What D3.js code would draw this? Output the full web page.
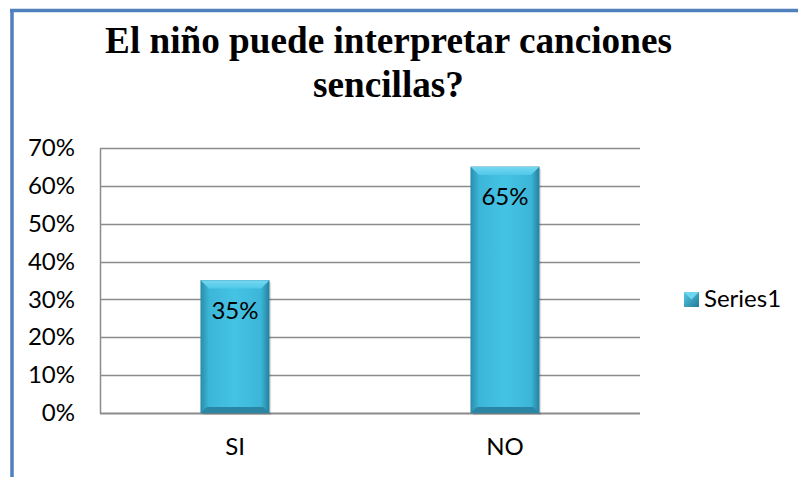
<!DOCTYPE html>
<html><head><meta charset="utf-8">
<script src="https://cdn.jsdelivr.net/npm/d3@7"></script>
<style>html,body{margin:0;padding:0;background:#fff;overflow:hidden}</style>
</head><body>
<svg id="c" width="798" height="477"></svg>
<script>
const categories = ["SI", "NO"];
const values = [0.35, 0.65];
const valueLabels = ["35%", "65%"];
const yTicks = [0, 0.1, 0.2, 0.3, 0.4, 0.5, 0.6, 0.7];
const titleLines = ["El niño puede interpretar canciones", "sencillas?"];
const seriesName = "Series1";

const svg = d3.select("#c");
const W = 798, H = 477;
const plot = {left: 100, right: 640, top: 148, bottom: 413};
const FS = "24px";
const LF = "Lato, 'Open Sans', sans-serif";

svg.append("line").attr("x1", 12).attr("x2", 12).attr("y1", 9.5).attr("y2", H)
  .attr("stroke", "#4F81BD").attr("stroke-width", 3.5);
svg.append("line").attr("x1", 10).attr("x2", W).attr("y1", 10.5).attr("y2", 10.5)
  .attr("stroke", "#4F81BD").attr("stroke-width", 3.5);

const title = svg.append("text").attr("text-anchor", "middle")
  .style("font-family", "'Liberation Serif', serif").style("font-weight", "bold")
  .style("font-size", "36px").attr("fill", "#000");
const tsp = titleLines.map((t, i) => title.append("tspan").attr("x", 388.5).attr("y", 53 + i * 44).text(t));
// fit first line width to the reference width
const w0 = tsp[0].node().getComputedTextLength();
if (w0 > 0) title.style("font-size", (36 * 567 / w0).toFixed(2) + "px");

const y = d3.scaleLinear().domain([0, 0.7]).range([plot.bottom, plot.top]);
const x = d3.scaleBand().domain(categories).range([plot.left, plot.right]).padding(0);

svg.append("g").selectAll("line").data(yTicks).join("line")
  .attr("x1", plot.left).attr("x2", plot.right)
  .attr("y1", d => Math.round(y(d)) + 0.5).attr("y2", d => Math.round(y(d)) + 0.5)
  .attr("stroke", "#8c8c8c").attr("stroke-width", d => d === 0 ? 2 : 1.5);

const yAxis = d3.axisLeft(y).tickValues(yTicks).tickFormat(d3.format(".0%")).tickSize(0).tickPadding(25);
const yg = svg.append("g").attr("transform", `translate(${plot.left},0)`).call(yAxis);
yg.select(".domain").attr("stroke", "#8c8c8c").attr("stroke-width", 1.5);
yg.selectAll("text").style("font-family", LF).style("font-size", FS).attr("fill", "#000");

const xAxis = d3.axisBottom(x).tickSize(0).tickPadding(25);
const xg = svg.append("g").attr("transform", `translate(0,${plot.bottom})`).call(xAxis);
xg.select(".domain").remove();
xg.selectAll("text").style("font-family", LF).style("font-size", FS).attr("fill", "#000");

const defs = svg.append("defs");
const g1 = defs.append("linearGradient").attr("id", "barH").attr("x1", 0).attr("x2", 1).attr("y1", 0).attr("y2", 0);
[[0, "#2b8eac"], [0.12, "#3cb6d8"], [0.5, "#45c3e4"], [0.88, "#3cb6d8"], [1, "#26829e"]]
  .forEach(([o, c]) => g1.append("stop").attr("offset", o).attr("stop-color", c));
const g2 = defs.append("linearGradient").attr("id", "barTop").attr("x1", 0).attr("x2", 0).attr("y1", 0).attr("y2", 1);
[[0, "#74d8f2"], [1, "#50c8e8"]].forEach(([o, c]) => g2.append("stop").attr("offset", o).attr("stop-color", c));
const g3 = defs.append("linearGradient").attr("id", "leg").attr("x1", 0).attr("x2", 1).attr("y1", 0).attr("y2", 1);
[[0, "#55cbea"], [1, "#237c96"]].forEach(([o, c]) => g3.append("stop").attr("offset", o).attr("stop-color", c));

const bw = x.bandwidth() * 0.253;
const bars = svg.append("g").selectAll("g").data(categories.map((c, i) => ({c, v: values[i], l: valueLabels[i]}))).join("g");
bars.append("rect")
  .attr("x", d => x(d.c) + x.bandwidth() / 2 - bw / 2 + 2).attr("y", d => y(d.v) + 2)
  .attr("width", bw).attr("height", d => plot.bottom - y(d.v))
  .attr("fill", "#000").attr("opacity", 0.12);
bars.append("rect")
  .attr("x", d => x(d.c) + x.bandwidth() / 2 - bw / 2).attr("y", d => y(d.v))
  .attr("width", bw).attr("height", d => plot.bottom - y(d.v))
  .attr("fill", "url(#barH)").attr("stroke", "#2a8aa8").attr("stroke-width", 0.6);
bars.append("path").attr("d", d => {
  const x0 = x(d.c) + x.bandwidth() / 2 - bw / 2, x1 = x0 + bw, t = y(d.v), b = 8;
  return `M${x0},${t}L${x1},${t}L${x1 - b},${t + b}L${x0 + b},${t + b}Z`;
}).attr("fill", "url(#barTop)");
bars.append("path").attr("d", d => {
  const x0 = x(d.c) + x.bandwidth() / 2 - bw / 2, x1 = x0 + bw, bt = plot.bottom, b = 6;
  return `M${x0},${bt}L${x1},${bt}L${x1 - b},${bt - b}L${x0 + b},${bt - b}Z`;
}).attr("fill", "#2a86a2");
bars.append("text")
  .attr("x", d => x(d.c) + x.bandwidth() / 2).attr("y", d => y(d.v) + 38)
  .attr("text-anchor", "middle").style("font-family", LF).style("font-size", FS)
  .attr("fill", "#000").text(d => d.l);

svg.append("rect").attr("x", 684).attr("y", 292).attr("width", 15).attr("height", 15).attr("fill", "url(#leg)");
svg.append("path").attr("d", "M684,292L699,292L691.5,299.5Z").attr("fill", "#6fd6f0");
svg.append("text").attr("x", 704).attr("y", 307).style("font-family", LF).style("font-size", FS)
  .attr("fill", "#000").text(seriesName);
</script>
</body></html>
